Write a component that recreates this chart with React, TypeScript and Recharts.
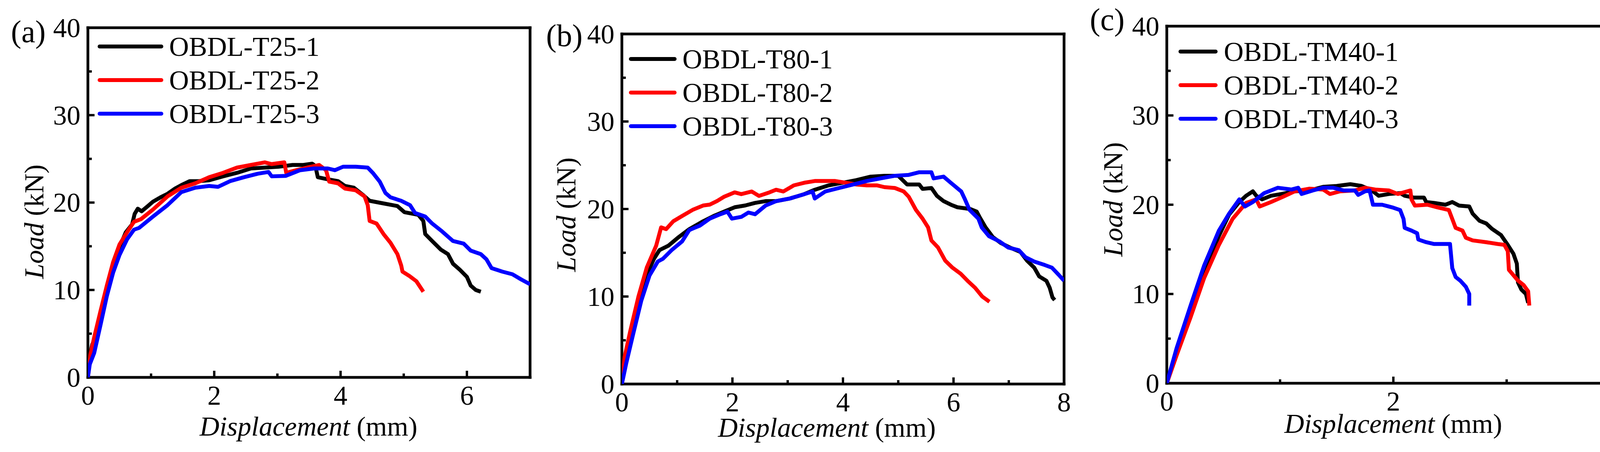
import React from 'react';
import { LineChart, Line, XAxis, YAxis, Legend, ReferenceArea } from 'recharts';

type Pt = [number, number];

const FONT = '"Liberation Serif", "Times New Roman", serif';

// (a) OBDL-T25 specimens: [displacement mm, load kN]
const T25_1: Pt[] = [
  [0, 0], [0.03, 2.5], [0.07, 3.8], [0.12, 4.4], [0.2, 6.6], [0.3, 9.6], [0.4, 12.4], [0.5, 14.9],
  [0.6, 16.6], [0.7, 17.5], [0.74, 18.7], [0.79, 19.3], [0.85, 19.0], [0.95, 19.6], [1.03, 20.1],
  [1.15, 20.6], [1.26, 21.0], [1.38, 21.6], [1.48, 22.0], [1.61, 22.45], [1.75, 22.45], [1.92, 22.55],
  [2.14, 23.0], [2.36, 23.4], [2.58, 23.9], [2.8, 24.0], [3.02, 24.1], [3.24, 24.3], [3.41, 24.3],
  [3.55, 24.45], [3.6, 24.2], [3.64, 22.9], [3.77, 22.7], [3.96, 22.45], [4.07, 21.9], [4.21, 21.7],
  [4.35, 20.9], [4.46, 20.2], [4.68, 19.9], [4.9, 19.6], [5.01, 18.9], [5.23, 18.6], [5.31, 17.9],
  [5.34, 16.4], [5.45, 15.6], [5.59, 14.6], [5.7, 14.1], [5.78, 13.0], [5.89, 12.3], [6.0, 11.5],
  [6.06, 10.5], [6.14, 10.0], [6.22, 9.8],
];
const T25_2: Pt[] = [
  [0, 0], [0.04, 2.6], [0.1, 4.6], [0.2, 7.6], [0.3, 10.5], [0.4, 13.2], [0.5, 15.2], [0.62, 16.6],
  [0.73, 17.8], [0.84, 18.1], [1.03, 19.2], [1.26, 20.7], [1.48, 21.7], [1.7, 22.2], [1.92, 22.9],
  [2.14, 23.4], [2.36, 24.0], [2.58, 24.3], [2.8, 24.6], [2.91, 24.4], [3.11, 24.6], [3.14, 23.4],
  [3.3, 23.7], [3.47, 24.0], [3.66, 24.3], [3.77, 23.7], [3.82, 22.4], [3.96, 22.2], [4.07, 21.6],
  [4.24, 21.4], [4.38, 20.7], [4.43, 19.7], [4.46, 17.9], [4.57, 17.6], [4.68, 16.4], [4.79, 15.4],
  [4.9, 14.1], [4.96, 12.8], [4.98, 12.1], [5.09, 11.6], [5.2, 11.0], [5.31, 9.8],
];
const T25_3: Pt[] = [
  [0, 0], [0.03, 1.5], [0.1, 2.8], [0.2, 6.0], [0.3, 9.3], [0.4, 12.0], [0.5, 14.0], [0.62, 15.8],
  [0.73, 16.9], [0.81, 17.1], [1.03, 18.4], [1.26, 19.7], [1.48, 21.2], [1.7, 21.7], [1.92, 21.9],
  [2.06, 21.8], [2.25, 22.45], [2.47, 22.9], [2.69, 23.3], [2.86, 23.5], [2.91, 23.0], [3.13, 23.05],
  [3.36, 23.7], [3.58, 23.9], [3.8, 23.9], [3.91, 23.7], [4.04, 24.1], [4.24, 24.1], [4.43, 24.0],
  [4.51, 23.4], [4.62, 22.4], [4.71, 21.1], [4.79, 20.6], [4.96, 20.2], [5.1, 19.7], [5.18, 18.8],
  [5.34, 18.4], [5.45, 17.6], [5.59, 16.8], [5.78, 15.6], [5.95, 15.3], [6.06, 14.5], [6.22, 14.1],
  [6.31, 13.5], [6.39, 12.5], [6.56, 12.1], [6.72, 11.8], [6.86, 11.2], [7.0, 10.65],
];

// (b) OBDL-T80 specimens
const T80_1: Pt[] = [
  [0, 0], [0.05, 2.8], [0.15, 5.6], [0.3, 9.5], [0.45, 12.5], [0.58, 14.3], [0.68, 15.3], [0.84, 15.8],
  [1.03, 16.8], [1.22, 17.7], [1.47, 18.6], [1.66, 19.2], [1.85, 19.7], [2.04, 20.2], [2.23, 20.4],
  [2.41, 20.7], [2.6, 20.9], [2.79, 20.9], [3.04, 21.2], [3.3, 21.7], [3.49, 22.2], [3.74, 22.7],
  [3.99, 23.0], [4.24, 23.3], [4.5, 23.7], [4.75, 23.8], [5.0, 23.8], [5.16, 22.8], [5.38, 22.8],
  [5.44, 22.3], [5.6, 22.4], [5.7, 21.5], [5.82, 20.9], [5.95, 20.5], [6.07, 20.2], [6.3, 20.0],
  [6.42, 19.7], [6.47, 19.1], [6.58, 17.9], [6.71, 16.8], [6.86, 16.1], [7.02, 15.6], [7.21, 15.1],
  [7.33, 14.1], [7.46, 13.3], [7.55, 12.3], [7.68, 11.8], [7.74, 11.0], [7.79, 9.9], [7.83, 9.6],
];
const T80_2: Pt[] = [
  [0, 0], [0.05, 3.1], [0.15, 6.0], [0.3, 10.0], [0.45, 13.3], [0.62, 15.8], [0.71, 17.9], [0.8, 17.7],
  [0.93, 18.6], [1.09, 19.2], [1.28, 19.9], [1.47, 20.4], [1.59, 20.5], [1.72, 20.9], [1.85, 21.4],
  [2.04, 21.9], [2.16, 21.7], [2.35, 22.0], [2.48, 21.5], [2.67, 21.9], [2.79, 22.2], [2.92, 22.0],
  [3.11, 22.7], [3.3, 23.0], [3.49, 23.2], [3.68, 23.2], [3.86, 23.2], [4.05, 23.0], [4.24, 22.8],
  [4.43, 22.7], [4.62, 22.7], [4.75, 22.5], [4.94, 22.4], [5.1, 22.0], [5.19, 21.4], [5.32, 19.9],
  [5.44, 18.9], [5.54, 17.9], [5.6, 16.4], [5.72, 15.6], [5.85, 14.1], [5.98, 13.3], [6.13, 12.6],
  [6.27, 11.7], [6.39, 11.0], [6.52, 10.0], [6.65, 9.4],
];
const T80_3: Pt[] = [
  [0, 0], [0.08, 2.4], [0.2, 5.6], [0.35, 9.5], [0.5, 12.4], [0.65, 14.0], [0.74, 14.3], [0.9, 15.3],
  [1.09, 16.3], [1.22, 17.6], [1.41, 18.1], [1.59, 18.9], [1.78, 19.4], [1.91, 19.7], [1.99, 18.9],
  [2.16, 19.1], [2.29, 19.6], [2.41, 19.4], [2.6, 20.4], [2.79, 20.9], [3.04, 21.2], [3.3, 21.7],
  [3.45, 22.0], [3.49, 21.2], [3.68, 22.0], [3.93, 22.4], [4.18, 22.8], [4.43, 23.2], [4.68, 23.5],
  [4.94, 23.8], [5.19, 23.9], [5.38, 24.2], [5.6, 24.2], [5.64, 23.5], [5.82, 23.7], [5.95, 23.0],
  [6.14, 22.0], [6.2, 21.2], [6.29, 19.9], [6.45, 18.9], [6.51, 17.9], [6.64, 16.9], [6.83, 16.3],
  [6.99, 15.6], [7.18, 15.3], [7.3, 14.5], [7.46, 14.0], [7.65, 13.6], [7.78, 13.3], [7.9, 12.5],
  [8.0, 11.8],
];

// (c) OBDL-TM40 specimens
const TM40_1: Pt[] = [
  [0, 0], [0.086, 3.5], [0.21, 8.4], [0.33, 12.7], [0.46, 16.5], [0.55, 18.9], [0.64, 20.3], [0.7, 21.0],
  [0.76, 21.5], [0.79, 21.0], [0.84, 20.6], [0.92, 21.0], [1.01, 21.2], [1.13, 21.5], [1.26, 21.6],
  [1.38, 22.0], [1.5, 22.1], [1.62, 22.3], [1.72, 22.1], [1.81, 21.6], [1.87, 21.0], [1.96, 21.2],
  [2.06, 21.3], [2.1, 21.0], [2.18, 20.8], [2.27, 20.8], [2.29, 20.3], [2.36, 20.2], [2.46, 20.0],
  [2.52, 20.3], [2.58, 19.9], [2.67, 19.8], [2.7, 19.0], [2.76, 18.2], [2.82, 17.9], [2.87, 17.3],
  [2.95, 16.6], [3.01, 15.5], [3.06, 14.5], [3.09, 13.4], [3.1, 11.3], [3.13, 10.5], [3.17, 10.0],
  [3.19, 9.0],
];
const TM40_2: Pt[] = [
  [0, 0], [0.086, 3.1], [0.21, 7.4], [0.33, 11.8], [0.46, 15.5], [0.58, 18.4], [0.7, 20.2], [0.79, 20.6],
  [0.82, 19.8], [0.92, 20.3], [1.01, 20.8], [1.13, 21.5], [1.26, 21.8], [1.38, 21.7], [1.44, 21.2],
  [1.53, 21.5], [1.66, 21.6], [1.75, 21.9], [1.84, 21.7], [1.96, 21.6], [2.04, 21.2], [2.15, 21.6],
  [2.16, 20.6], [2.19, 19.9], [2.3, 20.0], [2.39, 19.7], [2.49, 19.4], [2.52, 18.4], [2.55, 17.4],
  [2.61, 17.1], [2.64, 16.3], [2.7, 16.0], [2.82, 15.8], [2.92, 15.6], [2.98, 15.5], [3.01, 14.8],
  [3.02, 12.7], [3.06, 12.1], [3.1, 11.5], [3.15, 11.0], [3.19, 10.3], [3.2, 8.7],
];
const TM40_3: Pt[] = [
  [0, 0], [0.086, 3.9], [0.21, 8.7], [0.33, 13.2], [0.46, 17.1], [0.55, 19.0], [0.64, 20.6], [0.69, 19.8],
  [0.76, 20.3], [0.86, 21.3], [0.98, 21.9], [1.1, 21.7], [1.16, 21.9], [1.19, 21.2], [1.29, 21.6],
  [1.38, 21.9], [1.47, 21.9], [1.56, 21.6], [1.66, 21.6], [1.69, 21.1], [1.75, 21.5], [1.79, 21.6],
  [1.82, 20.0], [1.9, 20.0], [1.99, 19.7], [2.06, 19.4], [2.09, 18.4], [2.1, 17.4], [2.16, 17.1],
  [2.21, 16.8], [2.22, 16.1], [2.29, 15.8], [2.36, 15.6], [2.46, 15.6], [2.5, 15.6], [2.52, 12.9],
  [2.55, 11.9], [2.59, 11.5], [2.64, 10.8], [2.67, 10.0], [2.67, 8.7],
];

const Y_TICKS = [0, 5, 10, 15, 20, 25, 30, 35, 40];
const Y_MAJOR = [0, 10, 20, 30, 40];
const X_TICKS_A = [0, 1, 2, 3, 4, 5, 6, 7];
const X_MAJOR_A = [0, 2, 4, 6];
const X_TICKS_B = [0, 1, 2, 3, 4, 5, 6, 7, 8];
const X_MAJOR_B = [0, 2, 4, 6, 8];
const X_TICKS_C = [0, 1, 2, 3, 4];
const X_MAJOR_C = [0, 2, 4];

const COLORS = ['#000000', '#ff0000', '#0000ff'];

const toRows = (pts: Pt[]) => pts.map(([x, y]) => ({ x, y }));

// page layout (absolute pixels)
const PANELS = [
  {
    id: 'a', label: '(a)', labelPos: [28, 108],
    box: { x0: 225, y0: 71, x1: 1357, y1: 966 },
    xMax: 7, xTicks: X_TICKS_A, xMajor: X_MAJOR_A,
    names: ['OBDL-T25-1', 'OBDL-T25-2', 'OBDL-T25-3'],
    series: [T25_1, T25_2, T25_3],
    xTitle: [790, 1115], yTitle: [87, 567],
    legend: { lx1: 255, lx2: 413, tx: 433, rows: [119, 205, 291] },
  },
  {
    id: 'b', label: '(b)', labelPos: [1398, 118],
    box: { x0: 1592, y0: 87, x1: 2724, y1: 983 },
    xMax: 8, xTicks: X_TICKS_B, xMajor: X_MAJOR_B,
    names: ['OBDL-T80-1', 'OBDL-T80-2', 'OBDL-T80-3'],
    series: [T80_1, T80_2, T80_3],
    xTitle: [2117, 1118], yTitle: [1449, 549],
    legend: { lx1: 1615, lx2: 1727, tx: 1747, rows: [151, 237, 323] },
  },
  {
    id: 'c', label: '(c)', labelPos: [2790, 77],
    box: { x0: 2987, y0: 67, x1: 4147, y1: 981 },
    xMax: 4, xTicks: X_TICKS_C, xMajor: X_MAJOR_C,
    names: ['OBDL-TM40-1', 'OBDL-TM40-2', 'OBDL-TM40-3'],
    series: [TM40_1, TM40_2, TM40_3],
    xTitle: [3567, 1108], yTitle: [2849, 510],
    legend: { lx1: 3022, lx2: 3112, tx: 3133, rows: [132, 218, 304] },
  },
];

const ML = 220;
const MT = 70;
const MR = 30;
const XH = 190;

// frame and tick sizes in pixels
const FRAME_PX = 7;
const TICK_W_PX = 6;
const MAJOR_PX = 17;
const MINOR_PX = 10;

// split points of the two-style axis titles at 70px (italic word, then unit)
const X_TITLE_SPLIT = 106;
const Y_TITLE_SPLIT = -3;
const SPACE_PX = 17;

const xLabel = (p: any) => (
  <text x={p.x} y={p.y + 70} textAnchor="middle" fontFamily={FONT} fontSize={70} fill="#000">
    {p.payload.value}
  </text>
);

const yLabel = (p: any) => (
  <text x={p.x - 19} y={p.y} dy="0.34em" textAnchor="end" fontFamily={FONT} fontSize={70} fill="#000">
    {p.payload.value}
  </text>
);

function Panel({ cfg }: { cfg: (typeof PANELS)[number] }) {
  const { x0, y0, x1, y1 } = cfg.box;
  const left = x0 - ML;
  const top = y0 - MT;
  const w = x1 - x0 + ML + MR;
  const h = y1 - y0 + MT + XH;
  const lg = cfg.legend;
  const xMax = cfg.xMax;
  // data units per pixel
  const ux = xMax / (x1 - x0);
  const uy = 40 / (y1 - y0);
  const fx = (FRAME_PX / 2) * ux;
  const fy = (FRAME_PX / 2) * uy;
  const tx = (TICK_W_PX / 2) * ux;
  const ty = (TICK_W_PX / 2) * uy;

  const renderLegend = () => (
    <svg width={x1 - x0} height={340} style={{ display: 'block', overflow: 'visible' }}>
      {cfg.names.map((n, i) => (
        <g key={n}>
          <line
            x1={lg.lx1 - x0} x2={lg.lx2 - x0} y1={lg.rows[i] - y0} y2={lg.rows[i] - y0}
            stroke={COLORS[i]} strokeWidth={10} strokeLinecap="round"
          />
          <text x={lg.tx - x0} y={lg.rows[i] - y0} dy="0.34em" fontFamily={FONT} fontSize={70} fill="#000">
            {n}
          </text>
        </g>
      ))}
    </svg>
  );

  const xTitle = () => {
    const cx = cfg.xTitle[0] - left;
    const by = cfg.xTitle[1] - top;
    return (
      <g>
        <text x={cx + X_TITLE_SPLIT} y={by} textAnchor="end" fontFamily={FONT} fontSize={70} fontStyle="italic" fill="#000">
          Displacement
        </text>
        <text x={cx + X_TITLE_SPLIT + SPACE_PX} y={by} textAnchor="start" fontFamily={FONT} fontSize={70} fill="#000">
          (mm)
        </text>
      </g>
    );
  };

  const yTitle = () => {
    const cx = cfg.yTitle[0] - left;
    const cy = cfg.yTitle[1] - top;
    return (
      <g transform={`rotate(-90 ${cx} ${cy})`}>
        <text x={cx + Y_TITLE_SPLIT} y={cy} dy="0.34em" textAnchor="end" fontFamily={FONT} fontSize={70} fontStyle="italic" fill="#000">
          Load
        </text>
        <text x={cx + Y_TITLE_SPLIT + SPACE_PX} y={cy} dy="0.34em" textAnchor="start" fontFamily={FONT} fontSize={70} fill="#000">
          (kN)
        </text>
      </g>
    );
  };

  // solid black rectangles (frame sides and inward ticks)
  const bar = { xAxisId: 'x', yAxisId: 'y', fill: '#000', fillOpacity: 1, stroke: 'none', ifOverflow: 'visible' as const };

  return (
    <div style={{ position: 'absolute', left, top, width: w, height: h }}>
      <LineChart width={w} height={h} margin={{ top: MT, right: MR, left: 0, bottom: 0 }}>
        <XAxis
          xAxisId="x" type="number" dataKey="x" domain={[0, xMax]} allowDataOverflow
          ticks={cfg.xMajor} interval={0} tickSize={0} tickMargin={0}
          tickLine={false} axisLine={false} height={XH}
          tick={xLabel}
          label={{ content: xTitle }}
        />
        <YAxis
          yAxisId="y" type="number" domain={[0, 40]} allowDataOverflow
          ticks={Y_MAJOR} interval={0} tickSize={0} tickMargin={0}
          tickLine={false} axisLine={false} width={ML}
          tick={yLabel}
          label={{ content: yTitle }}
        />
        {cfg.xTicks.map((t) => (
          <ReferenceArea
            key={`xt${t}`} {...bar}
            x1={t - tx} x2={t + tx} y1={0}
            y2={(cfg.xMajor.includes(t) ? MAJOR_PX : MINOR_PX) * uy}
          />
        ))}
        {Y_TICKS.map((t) => (
          <ReferenceArea
            key={`yt${t}`} {...bar}
            y1={t - ty} y2={t + ty} x1={0}
            x2={(Y_MAJOR.includes(t) ? MAJOR_PX : MINOR_PX) * ux}
          />
        ))}
        {cfg.series.map((s, i) => (
          <Line
            key={cfg.names[i]}
            xAxisId="x"
            yAxisId="y"
            data={toRows(s)}
            dataKey="y"
            name={cfg.names[i]}
            type="linear"
            stroke={COLORS[i]}
            strokeWidth={10}
            strokeLinejoin="round"
            dot={false}
            activeDot={false}
            isAnimationActive={false}
          />
        ))}
        {/* plot frame */}
        <ReferenceArea {...bar} x1={-fx} x2={fx} y1={-fy} y2={40 + fy} />
        <ReferenceArea {...bar} x1={xMax - fx} x2={xMax + fx} y1={-fy} y2={40 + fy} />
        <ReferenceArea {...bar} x1={-fx} x2={xMax + fx} y1={-fy} y2={fy} />
        <ReferenceArea {...bar} x1={-fx} x2={xMax + fx} y1={40 - fy} y2={40 + fy} />
        <Legend
          layout="vertical" align="center" verticalAlign="middle"
          wrapperStyle={{ left: ML, top: MT, width: x1 - x0, height: 340 }}
          content={renderLegend}
        />
      </LineChart>
    </div>
  );
}

export default function App() {
  return (
    <div
      style={{
        position: 'absolute', left: 0, top: 0, width: 4179, height: 1157,
        background: '#fff', overflow: 'hidden',
      }}
    >
      {PANELS.map((p) => (
        <Panel key={p.id} cfg={p} />
      ))}
      <svg width={4179} height={1157} style={{ position: 'absolute', left: 0, top: 0, pointerEvents: 'none' }}>
        {PANELS.map((p) => (
          <text key={p.id} x={p.labelPos[0]} y={p.labelPos[1]} fontFamily={FONT} fontSize={80} fill="#000">
            {p.label}
          </text>
        ))}
      </svg>
    </div>
  );
}
